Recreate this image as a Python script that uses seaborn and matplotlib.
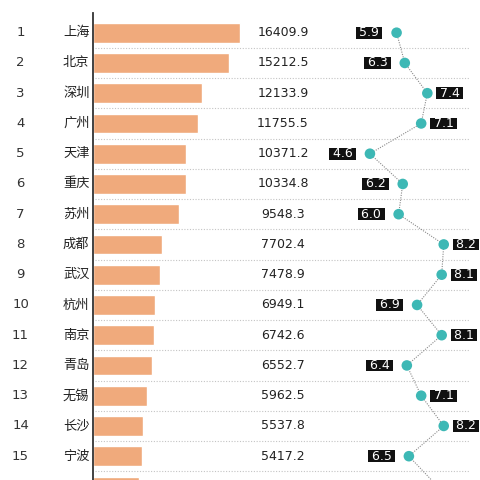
import numpy as np
import pandas as pd
import matplotlib
matplotlib.use("Agg")
import matplotlib.pyplot as plt
import matplotlib.transforms as mtransforms
import seaborn as sns

ranks = list(range(1, 17))
cities = ["上海", "北京", "深圳", "广州", "天津", "重庆", "苏州", "成都",
          "武汉", "杭州", "南京", "青岛", "无锡", "长沙", "宁波", ""]
gdp = [16409.9, 15212.5, 12133.9, 11755.5, 10371.2, 10334.8, 9548.3, 7702.4,
       7478.9, 6949.1, 6742.6, 6552.7, 5962.5, 5537.8, 5417.2, 5150.0]
growth = [5.9, 6.3, 7.4, 7.1, 4.6, 6.2, 6.0, 8.2,
          8.1, 6.9, 8.1, 6.4, 7.1, 8.2, 6.5, 7.9]

BAR_C = "#F0AA7C"
DOT_C = "#3DB8B5"

sns.set_theme(style="white")
plt.rcParams['font.family'] = ['Noto Sans CJK SC', 'DejaVu Sans']

df = pd.DataFrame({"rank": ranks, "city": cities, "gdp": gdp, "growth": growth})
df["key"] = [f"r{r}" for r in ranks]
pos = np.arange(len(df))

fig = plt.figure(figsize=(4.8, 4.8), dpi=100)
W = 480.0
ax_left = 93.3
ax1 = fig.add_axes([ax_left / W, 0, (W - ax_left) / W, 1])
ax2 = fig.add_axes([0, 0, 1, 1])
ax2.patch.set_alpha(0)

sns.barplot(data=df, x="gdp", y="key", orient="h", color=BAR_C,
            saturation=1, width=0.65, ax=ax1)

ylim = (14.787, -1.081)
ax1.set_ylim(*ylim)
ax1.set_xlim(0, (W - ax_left) / 0.00894)
ax1.set_xlabel("")
ax1.set_ylabel("")
ax1.set_xticks([])
ax1.set_yticks([])
for s in ["top", "right", "bottom"]:
    ax1.spines[s].set_visible(False)
ax1.spines["left"].set_color("#333333")
ax1.spines["left"].set_linewidth(1.3)
ax1.spines["left"].set_bounds(-0.65, 15.5)

for i in range(len(df) - 1):
    ax1.axhline(i + 0.5, xmin=0.005, xmax=(470 - ax_left) / (W - ax_left),
                color="#c4c4c4", lw=0.8, ls=(0, (1, 1.5)), zorder=0)

# dot panel
sns.lineplot(x=df["growth"], y=pos, sort=False, estimator=None, ax=ax2,
             color="#8a8a8a", lw=0.8, ls=(0, (1, 1.2)), zorder=2)
sns.scatterplot(x=df["growth"], y=pos, s=58, color=DOT_C, edgecolor="none",
                ax=ax2, zorder=3)
ax2.set_xlim(-13.445, 9.969)
ax2.set_ylim(*ylim)
ax2.set_axis_off()

for i, g in enumerate(df["growth"]):
    right = g >= 7.0
    off = 6.0 if right else -9.7
    ax2.annotate(f" {g:.1f} ", (g, i), xytext=(off, 0), textcoords="offset points",
                 ha="left" if right else "right", va="center", fontsize=9,
                 family="DejaVu Sans", color="white", zorder=4,
                 bbox=dict(boxstyle="square,pad=-0.05", fc="#111111", ec="none"))

trans = mtransforms.blended_transform_factory(fig.transFigure, ax1.transData)
for i, row in df.iterrows():
    if i >= 15:
        continue
    ax1.text(20.5 / W, i, str(row["rank"]), transform=trans, ha="center",
             va="center", fontsize=9.5, color="#333333", family="DejaVu Sans")
    ax1.text(89.5 / W, i, row["city"], transform=trans, ha="right",
             va="center", fontsize=9.5, color="#222222")
    ax1.text(283 / W, i, f"{row['gdp']:.1f}", transform=trans, ha="center",
             va="center", fontsize=9, color="#222222", family="DejaVu Sans")

fig.savefig("out.png", dpi=100, facecolor="white")
